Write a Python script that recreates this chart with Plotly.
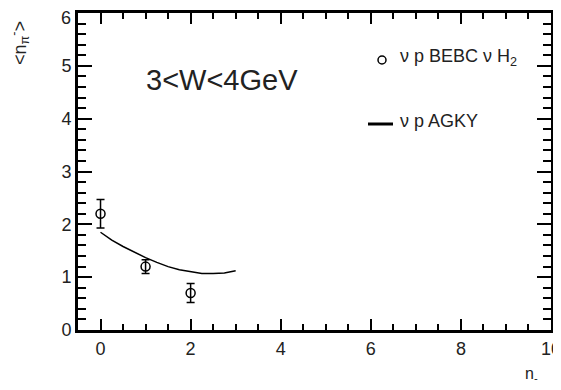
import plotly.graph_objects as go

# Data
bebc_x = [0, 1, 2]
bebc_y = [2.2, 1.2, 0.7]
bebc_err = [0.27, 0.13, 0.18]

agky_x = [0, 0.25, 0.5, 0.75, 1.0, 1.25, 1.5, 1.75, 2.0, 2.25, 2.5, 2.75, 3.0]
agky_y = [1.85, 1.7, 1.58, 1.47, 1.37, 1.28, 1.2, 1.14, 1.1, 1.07, 1.07, 1.08, 1.12]

x_ticks = [0, 2, 4, 6, 8, 10]
y_ticks = [0, 1, 2, 3, 4, 5, 6]

FONT = "Liberation Sans, Arial, sans-serif"
OFF = 8  # page body margin
L, R, T, B = 78, 551, 13, 330   # plot area in window pixels
W, H = R - L, B - T

def px(x):
    return (x - L) / W

def py(y):
    return (B - y) / H

fig = go.Figure()
fig.add_trace(go.Scatter(
    x=agky_x, y=agky_y, mode="lines",
    line=dict(color="black", width=1.5), showlegend=False))
fig.add_trace(go.Scatter(
    x=bebc_x, y=bebc_y, mode="markers",
    marker=dict(symbol="circle-open", size=9, color="black", line=dict(width=1.5)),
    error_y=dict(type="data", array=bebc_err, color="black", thickness=1.5, width=4),
    showlegend=False))

axis_common = dict(
    showline=True, linecolor="black", linewidth=3, mirror="ticks",
    ticks="inside", tickcolor="black", tickwidth=2,
    showgrid=False, zeroline=False, automargin=False,
    ticklabeloverflow="allow",
    tickfont=dict(family=FONT, size=18, color="#222"),
)
# top label drawn separately (lowered so it stays inside the page, as in the reference)
y_ticktext = [str(v) for v in y_ticks[:-1]] + [""]

fig.update_xaxes(range=[-0.5, 10], tickvals=x_ticks, ticklen=11,
                 minor=dict(dtick=0.5, tick0=0, ticklen=6, ticks="inside", tickcolor="black", tickwidth=2),
                 **axis_common)
fig.update_yaxes(range=[0, 6], tickvals=y_ticks, ticktext=y_ticktext, ticklen=14,
                 minor=dict(dtick=0.2, tick0=0, ticklen=8, ticks="inside", tickcolor="black", tickwidth=2),
                 **axis_common)

fig.update_layout(
    width=561 - OFF, height=390 - OFF,
    margin=dict(l=L - OFF, r=561 - R, t=T - OFF, b=390 - B),
    plot_bgcolor="white", paper_bgcolor="white",
    font=dict(family=FONT, color="#222"),
)

ann_font = lambda s: dict(family=FONT, size=s, color="#222")
fig.add_annotation(text=str(y_ticks[-1]), x=px(73), y=py(18), xref="paper", yref="paper",
                   xanchor="right", yanchor="middle", showarrow=False, font=ann_font(18))
fig.add_annotation(text="3&lt;W&lt;4GeV", x=px(144), y=py(80), xref="paper", yref="paper",
                   xanchor="left", yanchor="middle", showarrow=False, font=ann_font(29))
fig.add_annotation(text="ν p BEBC ν H<sub>2</sub>", x=px(398), y=py(57), xref="paper", yref="paper",
                   xanchor="left", yanchor="middle", showarrow=False, font=ann_font(18))
fig.add_annotation(text="ν p AGKY", x=px(398), y=py(121), xref="paper", yref="paper",
                   xanchor="left", yanchor="middle", showarrow=False, font=ann_font(18))
fig.add_annotation(text="n<sub>-</sub>", x=px(531), y=py(374), xref="paper", yref="paper",
                   xanchor="center", yanchor="middle", showarrow=False, font=ann_font(16))
fig.add_annotation(text="&lt;n<sub>π</sub><sup>-</sup>&gt;", xref="paper", yref="paper",
                   x=px(20), y=py(43), textangle=-90,
                   xanchor="center", yanchor="middle", showarrow=False, font=ann_font(18))

# legend symbols
fig.add_shape(type="circle", xref="paper", yref="paper",
              x0=px(378), x1=px(386), y0=py(64), y1=py(56),
              line=dict(color="black", width=1.5))
fig.add_shape(type="line", xref="paper", yref="paper",
              x0=px(368), x1=px(393), y0=py(124), y1=py(124),
              line=dict(color="black", width=3))

fig.write_html("out.html")
